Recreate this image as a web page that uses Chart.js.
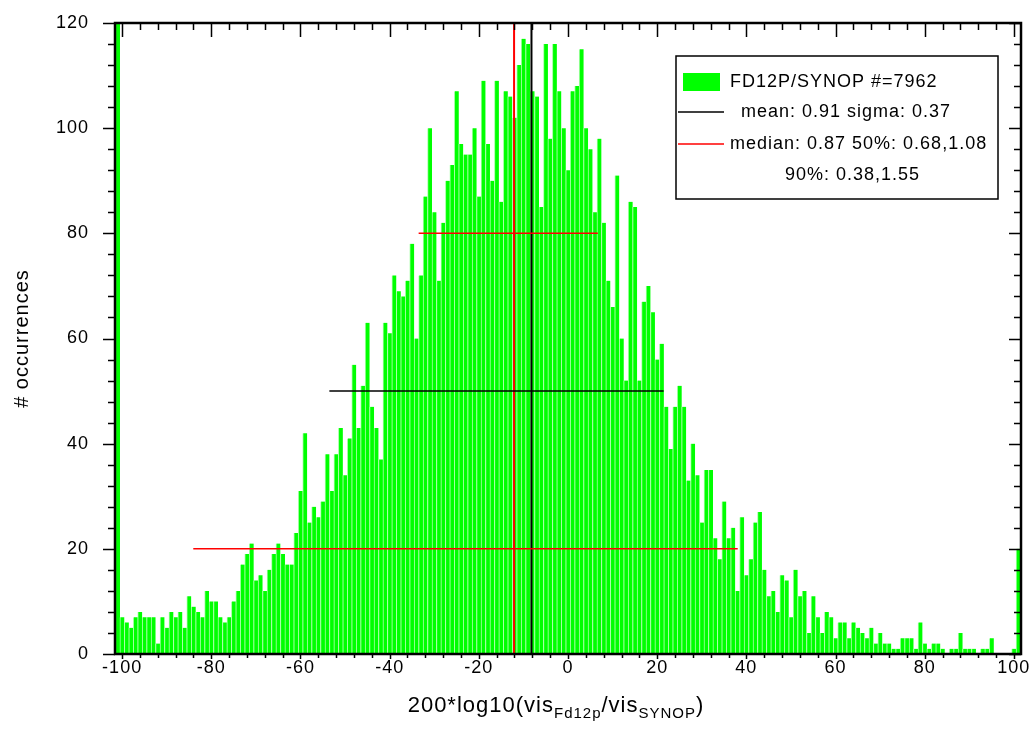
<!DOCTYPE html>
<html>
<head>
<meta charset="utf-8">
<script src="https://cdn.jsdelivr.net/npm/chart.js@4.4.1/dist/chart.umd.min.js"></script>
<style>
html, body { margin: 0; padding: 0; background: #fff; }
</style>
</head>
<body>
<canvas id="c" width="1034" height="743"></canvas>
<script>
// histogram bins are centred on whole numbers, first bin -101, last bin 101
const binStart = -101;
const counts = [
  120, 7, 6, 5, 7, 8, 7, 7, 7, 2,
  7, 5, 8, 7, 8, 5, 11, 9, 8, 7,
  12, 10, 10, 7, 6, 7, 10, 12, 17, 19,
  21, 14, 15, 12, 16, 19, 21, 19, 17, 17,
  23, 31, 42, 25, 28, 26, 29, 38, 31, 38,
  43, 34, 41, 55, 43, 51, 63, 47, 43, 37,
  63, 61, 72, 69, 68, 71, 78, 60, 72, 87,
  100, 84, 71, 82, 90, 93, 107, 97, 95, 95,
  100, 87, 109, 97, 90, 109, 86, 107, 106, 102,
  112, 117, 116, 107, 106, 85, 116, 98, 116, 107,
  100, 92, 107, 108, 115, 100, 96, 84, 98, 82,
  71, 66, 91, 60, 52, 86, 85, 52, 67, 70,
  65, 56, 59, 47, 39, 47, 51, 47, 33, 40,
  34, 25, 35, 35, 22, 18, 29, 22, 24, 12,
  26, 15, 18, 25, 27, 16, 11, 12, 8, 15,
  14, 7, 16, 11, 12, 4, 11, 7, 4, 8,
  7, 3, 6, 6, 3, 6, 5, 4, 3, 5,
  2, 4, 2, 2, 1, 1, 3, 3, 3, 1,
  6, 2, 1, 2, 2, 1, 0, 1, 1, 4,
  1, 1, 1, 0, 1, 1, 3, 0, 0, 0,
  0, 1, 20
];
const xTicks = [-100, -80, -60, -40, -20, 0, 20, 40, 60, 80, 100];
const yTicks = [0, 20, 40, 60, 80, 100, 120];

// statistics from the legend (ratios FD12P/SYNOP)
const nTotal = 7962;
const meanRatio = 0.91;
const sigmaRatio = 0.37;
const medianRatio = 0.87;
const q50 = [0.68, 1.08];
const q90 = [0.38, 1.55];
const lineLevels = [80, 50, 20]; // heights of the 50%, sigma and 90% bars

const toX = r => 200 * Math.log10(r);

const barData = counts.map((n, i) => ({ x: binStart + i, y: n }));

function seg(x0, y0, x1, y1) {
  return [{ x: x0, y: y0 }, { x: x1, y: y1 }];
}

const lineStyle = { type: 'line', pointRadius: 0, fill: false, order: 0 };

const datasets = [
  Object.assign({}, lineStyle, {
    data: seg(toX(q50[0]), lineLevels[0], toX(q50[1]), lineLevels[0]),
    borderColor: '#ff0000', borderWidth: 1.5
  }),
  Object.assign({}, lineStyle, {
    data: seg(toX(meanRatio - sigmaRatio), lineLevels[1], toX(meanRatio + sigmaRatio), lineLevels[1]),
    borderColor: '#000000', borderWidth: 1.5
  }),
  Object.assign({}, lineStyle, {
    data: seg(toX(q90[0]), lineLevels[2], toX(q90[1]), lineLevels[2]),
    borderColor: '#ff0000', borderWidth: 1.5
  }),
  Object.assign({}, lineStyle, {
    data: seg(toX(meanRatio), 0, toX(meanRatio), 120),
    borderColor: '#000000', borderWidth: 2
  }),
  Object.assign({}, lineStyle, {
    data: seg(toX(medianRatio), 0, toX(medianRatio), 120),
    borderColor: '#ff0000', borderWidth: 2
  }),
  {
    type: 'bar',
    data: barData,
    backgroundColor: '#00ff00',
    borderColor: '#a8ffa8',
    borderWidth: { left: 1, top: 0, right: 0, bottom: 0 },
    borderSkipped: false,
    barPercentage: 1,
    categoryPercentage: 1,
    order: 1
  }
];

const FONT = 'Liberation Sans, Arial, sans-serif';

// the original text is a bit spread out, so widen every glyph run a little
const spacing = {
  id: 'spacing',
  beforeDraw(chart) { chart.ctx.letterSpacing = '1px'; }
};

// frame and tick marks (outward on left/bottom, inward on top/right)
const frame = {
  id: 'frame',
  afterDatasetsDraw(chart) {
    const { ctx, chartArea: a, scales: { x, y } } = chart;
    ctx.save();
    ctx.strokeStyle = '#000';
    ctx.lineWidth = 1.5;
    ctx.beginPath();
    for (let v = -100; v <= 100; v += 4) {
      const px = Math.round(x.getPixelForValue(v)) + 0.5;
      const major = v % 20 === 0;
      ctx.moveTo(px, a.bottom); ctx.lineTo(px, a.bottom + (major ? 5 : 4));
      ctx.moveTo(px, a.top); ctx.lineTo(px, a.top + (major ? 14 : 7));
    }
    for (let v = 0; v <= 120; v += 4) {
      const py = Math.round(y.getPixelForValue(v)) + 0.5;
      const major = v % 20 === 0;
      ctx.moveTo(a.left, py); ctx.lineTo(a.left - (major ? 12 : 7), py);
      ctx.moveTo(a.right, py); ctx.lineTo(a.right - (major ? 12 : 7), py);
    }
    ctx.stroke();
    ctx.lineWidth = 2.5;
    ctx.strokeRect(a.left, a.top, a.right - a.left, a.bottom - a.top);
    ctx.restore();
  }
};

// legend box and subscripted x title
const extras = {
  id: 'extras',
  afterDraw(chart) {
    const ctx = chart.ctx;
    ctx.save();
    ctx.letterSpacing = '1px';
    ctx.strokeStyle = '#000';
    ctx.lineWidth = 1.5;
    ctx.fillStyle = '#fff';
    ctx.fillRect(676, 56, 322, 143);
    ctx.strokeRect(676, 56, 322, 143);

    ctx.fillStyle = '#00ff00';
    ctx.fillRect(683, 73, 37, 18);

    ctx.lineWidth = 1.5;
    ctx.strokeStyle = '#000';
    ctx.beginPath(); ctx.moveTo(678, 112); ctx.lineTo(724, 112); ctx.stroke();
    ctx.strokeStyle = '#ff0000';
    ctx.beginPath(); ctx.moveTo(678, 144); ctx.lineTo(724, 144); ctx.stroke();

    ctx.fillStyle = '#000';
    ctx.font = '18px ' + FONT;
    ctx.textBaseline = 'middle';
    ctx.textAlign = 'left';
    ctx.fillText('FD12P/SYNOP #=' + nTotal, 730, 82);
    ctx.fillText('mean: ' + meanRatio.toFixed(2) + ' sigma: ' + sigmaRatio.toFixed(2), 741, 112);
    ctx.fillText('median: ' + medianRatio.toFixed(2) + ' 50%: ' + q50[0].toFixed(2) + ',' + q50[1].toFixed(2), 730, 144);
    ctx.fillText('90%: ' + q90[0].toFixed(2) + ',' + q90[1].toFixed(2), 785, 175);

    // x axis title with subscripts
    const parts = [
      ['200*log10(vis', false], ['Fd12p', true], ['/vis', false], ['SYNOP', true], [')', false]
    ];
    const big = '22px ' + FONT, small = '15px ' + FONT;
    let w = 0;
    parts.forEach(p => { ctx.font = p[1] ? small : big; w += ctx.measureText(p[0]).width; });
    let cx = 556 - w / 2;
    ctx.textBaseline = 'alphabetic';
    parts.forEach(p => {
      ctx.font = p[1] ? small : big;
      ctx.fillText(p[0], cx, p[1] ? 718 : 712);
      cx += ctx.measureText(p[0]).width;
    });
    ctx.restore();
  }
};

new Chart(document.getElementById('c'), {
  type: 'bar',
  data: { datasets },
  options: {
    responsive: false,
    devicePixelRatio: 1,
    animation: false,
    events: [],
    layout: { padding: { left: 0, top: 23, right: 13, bottom: 0 } },
    plugins: { legend: { display: false }, tooltip: { enabled: false } },
    scales: {
      x: {
        type: 'linear',
        min: -101.6,
        max: 101.6,
        offset: false,
        grid: { display: false, drawTicks: false },
        border: { display: false },
        afterBuildTicks: s => { s.ticks = xTicks.map(v => ({ value: v })); },
        afterFit: s => { s.height = 743 - 654; s.paddingLeft = 0; s.paddingRight = 0; },
        ticks: { autoSkip: false, maxRotation: 0, padding: 3, color: '#000', font: { family: FONT, size: 18 } }
      },
      y: {
        min: 0,
        max: 120,
        grid: { display: false, drawTicks: false },
        border: { display: false },
        afterBuildTicks: s => { s.ticks = yTicks.map(v => ({ value: v })); },
        afterFit: s => { s.width = 115; s.paddingTop = 0; s.paddingBottom = 0; },
        ticks: { padding: 26, color: '#000', font: { family: FONT, size: 18 } },
        title: { display: true, text: '# occurrences', color: '#000', padding: { top: 10, bottom: 0 }, font: { family: FONT, size: 20 } }
      }
    }
  },
  plugins: [spacing, frame, extras]
});
</script>
</body>
</html>
